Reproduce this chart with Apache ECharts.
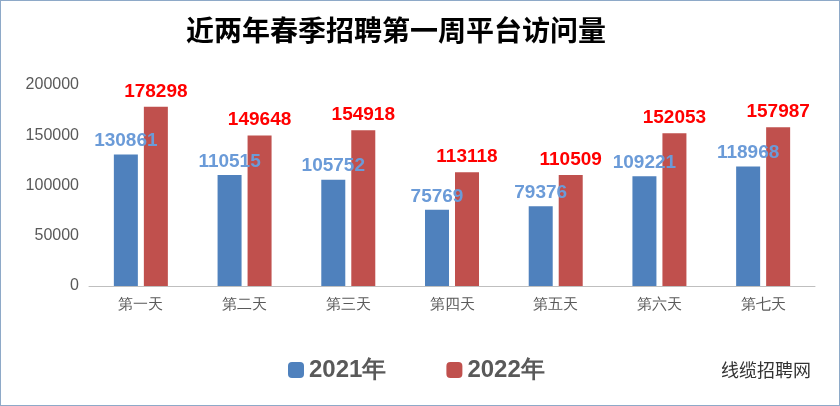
<!DOCTYPE html>
<html><head><meta charset="utf-8">
<script src="https://cdn.jsdelivr.net/npm/echarts@6/dist/echarts.min.js"></script>
<style>html,body{margin:0;padding:0;background:#fff}#c{width:840px;height:406px;box-sizing:border-box;border:1px solid #8ea9c8}</style>
</head><body><div id="c"></div>
<script>
const days = ['第一天','第二天','第三天','第四天','第五天','第六天','第七天'];
const v2021 = [130861,110515,105752,75769,79376,109221,118968];
const v2022 = [178298,149648,154918,113118,110509,152053,157987];

let chart = echarts.init(document.getElementById('c'));
chart.setOption({
    animation: false,
    title: {
        text: '近两年春季招聘第一周平台访问量', left: 390, top: 10, textAlign: 'center',
        textStyle: {fontSize: 28, fontWeight: 'bold', color: '#000', fontFamily: 'Noto Sans CJK SC'}
    },
    legend: {
        bottom: 18, left: 282, itemWidth: 16, itemHeight: 16, itemGap: 60,
        textStyle: {fontSize: 24, fontWeight: 'bold', color: '#595959'}
    },
    graphic: [{
        type: 'text', right: 28, bottom: 26,
        style: {text: '线缆招聘网', fontSize: 18, fill: '#333', fontFamily: 'Noto Sans CJK SC'}
    }],
    grid: {left: 88, right: 24, top: 84, bottom: 119},
    xAxis: {
        type: 'category', data: days,
        axisTick: {show: false},
        axisLine: {lineStyle: {color: '#bfbfbf'}},
        axisLabel: {fontSize: 15, color: '#595959', fontFamily: 'serif', margin: 12}
    },
    yAxis: {
        type: 'value', min: 0, max: 200000, interval: 50000,
        splitLine: {show: false},
        axisLabel: {fontSize: 16, color: '#595959', margin: 10, formatter: v => String(v)}
    },
    series: [
        {name: '2021年', type: 'bar', data: v2021, barWidth: 24, barGap: '25%',
         itemStyle: {color: '#4f81bd'},
         label: {show: true, position: 'top', distance: 4, fontSize: 19, fontWeight: 'bold', color: '#6b9bd8'}},
        {name: '2022年', type: 'bar', data: v2022, barWidth: 24,
         itemStyle: {color: '#c0504d'},
         label: {show: true, position: 'top', distance: 6, fontSize: 19, fontWeight: 'bold', color: '#ff0000'}}
    ]
});
</script></body></html>
